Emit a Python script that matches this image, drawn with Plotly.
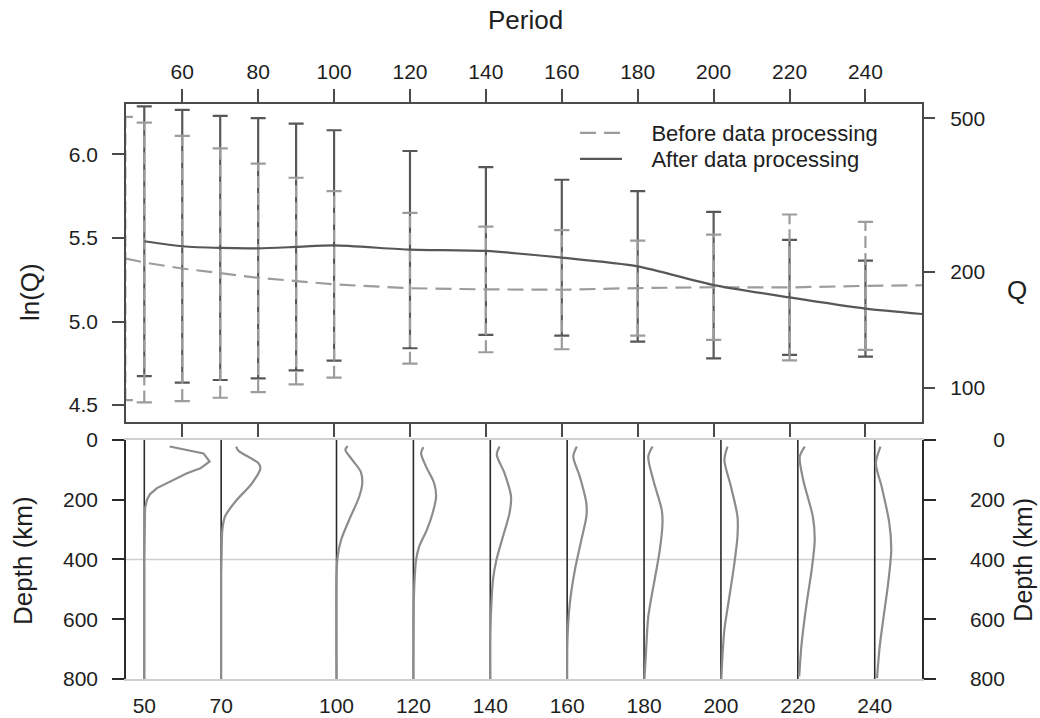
import numpy as np
import plotly.graph_objects as go

# ---------------- data: top panel (ln Q vs period) ----------------
AFTER_PERIOD = [50, 60, 70, 80, 90, 100, 120, 140, 160, 180, 200, 220, 240, 260]
AFTER_LNQ = [5.48, 5.45, 5.44, 5.438, 5.446, 5.455, 5.43, 5.422, 5.382, 5.33, 5.218, 5.144, 5.077, 5.035]
AFTER_ERR = [0.807, 0.816, 0.79, 0.778, 0.738, 0.689, 0.59, 0.502, 0.466, 0.45, 0.438, 0.344, 0.287]

BEFORE_PERIOD = [45, 50, 60, 70, 80, 90, 100, 120, 140, 160, 180, 200, 220, 240, 260]
BEFORE_LNQ = [5.377, 5.353, 5.317, 5.29, 5.261, 5.242, 5.222, 5.199, 5.192, 5.19, 5.20, 5.205, 5.204, 5.213, 5.218]
BEFORE_ERR = [0.847, 0.837, 0.793, 0.746, 0.683, 0.618, 0.558, 0.451, 0.376, 0.356, 0.284, 0.315, 0.436, 0.383]

PERIOD_TICKS = [60, 80, 100, 120, 140, 160, 180, 200, 220, 240]
LNQ_TICKS = [4.5, 5.0, 5.5, 6.0]
Q_TICKS = [100, 200, 500]

# ---------------- data: bottom panel (sensitivity kernels) ----------------
PROFILE_PERIODS = [50, 70, 100, 120, 140, 160, 180, 200, 220, 240]
DEPTH_TICKS = [0, 200, 400, 600, 800]
DEPTH_REF = 400

P50_DEPTH = [22, 45, 72, 95, 111, 128, 145, 161, 181, 200, 228, 300, 400, 800]
P50_X = [56.6, 65.4, 67.0, 64.6, 61.1, 58.5, 55.9, 53.3, 51.5, 50.7, 50.2, 50.05, 50.0, 50.0]
P70_DEPTH = [22, 36, 78, 95, 145, 206, 256, 301, 390, 450, 800]
P70_X = [73.9, 74.5, 79.7, 80.2, 78.0, 73.7, 71.0, 70.3, 70.1, 70.0, 70.0]
P100_DEPTH = [20, 33, 67, 106, 145, 190, 267, 334, 390, 450, 800]
P100_X = [102.9, 102.3, 104.1, 106.3, 106.7, 105.9, 103.3, 101.2, 100.3, 100.0, 100.0]
P120_DEPTH = [24, 44, 89, 145, 190, 245, 301, 357, 401, 468, 550, 800]
P120_X = [122.6, 122.0, 123.3, 125.4, 125.9, 125.0, 123.5, 121.5, 120.7, 120.3, 120.1, 120.0]
P140_DEPTH = [22, 50, 111, 190, 245, 323, 401, 468, 546, 650, 800]
P140_X = [142.4, 141.7, 143.7, 145.4, 145.0, 143.3, 141.6, 140.7, 140.3, 140.0, 140.0]
P160_DEPTH = [22, 56, 123, 212, 256, 334, 435, 546, 658, 800]
P160_X = [162.5, 161.6, 163.3, 165.0, 165.0, 163.7, 162.0, 160.7, 160.1, 160.0]
P180_DEPTH = [22, 56, 134, 234, 278, 368, 457, 591, 724, 800]
P180_X = [182.2, 181.1, 182.4, 184.6, 184.8, 184.1, 182.9, 181.1, 180.45, 180.1]
P200_DEPTH = [22, 67, 156, 256, 323, 412, 524, 635, 746, 800]
P200_X = [201.7, 200.9, 202.6, 204.3, 204.3, 203.5, 202.2, 200.9, 200.3, 200.1]
P220_DEPTH = [22, 56, 134, 256, 334, 435, 546, 680, 791]
P220_X = [221.8, 220.5, 221.4, 223.9, 224.4, 223.6, 222.3, 221.0, 220.35]
P240_DEPTH = [22, 78, 156, 278, 368, 479, 602, 691, 797]
P240_X = [241.5, 240.3, 241.8, 243.8, 244.3, 243.5, 242.2, 241.3, 240.6]

PROFILES = [
    (P50_X, P50_DEPTH, "linear"), (P70_X, P70_DEPTH, "spline"), (P100_X, P100_DEPTH, "spline"),
    (P120_X, P120_DEPTH, "spline"), (P140_X, P140_DEPTH, "spline"), (P160_X, P160_DEPTH, "spline"),
    (P180_X, P180_DEPTH, "spline"), (P200_X, P200_DEPTH, "spline"), (P220_X, P220_DEPTH, "spline"),
    (P240_X, P240_DEPTH, "spline"),
]

# ---------------- styles ----------------
DARK = "#575757"
LIGHT = "#9c9c9c"
AXIS = "#4a4a4a"
TEXT = "#1e1e1e"
FONT = "Liberation Sans, Arial, Helvetica, sans-serif"
CAP = 2.0  # half-width of Before caps (period units)
PAD = "\u00a0" * 4

fig = go.Figure()

# After error bars (solid, dark)
n_err = len(AFTER_ERR)
fig.add_trace(go.Scatter(
    x=AFTER_PERIOD[:n_err], y=AFTER_LNQ[:n_err], mode="markers",
    marker=dict(size=1, opacity=0),
    error_y=dict(type="data", array=AFTER_ERR, color=DARK, thickness=2.2, width=7.5),
    showlegend=False, hoverinfo="skip", xaxis="x", yaxis="y"))

# Before error bars (dashed verticals, light caps)
bx, by, cx, cy = [], [], [], []
for p, c, e in zip(BEFORE_PERIOD, BEFORE_LNQ, BEFORE_ERR):
    bx += [p, p, None]
    by += [c - e, c + e, None]
    for yv in (c - e, c + e):
        cx += [p - CAP, p + CAP, None]
        cy += [yv, yv, None]
fig.add_trace(go.Scatter(x=bx, y=by, mode="lines",
                         line=dict(color=LIGHT, width=2.2, dash="12px,5px"),
                         showlegend=False, hoverinfo="skip", xaxis="x", yaxis="y"))
fig.add_trace(go.Scatter(x=cx, y=cy, mode="lines",
                         line=dict(color=LIGHT, width=2.2),
                         showlegend=False, hoverinfo="skip", xaxis="x", yaxis="y"))

# lines
fig.add_trace(go.Scatter(x=BEFORE_PERIOD, y=BEFORE_LNQ, mode="lines", name=PAD + "Before data processing",
                         line=dict(color=LIGHT, width=2.2, dash="16px,8px"), xaxis="x", yaxis="y",
                         legend="legend"))
fig.add_trace(go.Scatter(x=AFTER_PERIOD, y=AFTER_LNQ, mode="lines", name=PAD + "After data processing",
                         line=dict(color=DARK, width=2.2, shape="spline", smoothing=0.6), xaxis="x", yaxis="y",
                         legend="legend2"))

# empty traces so the right-hand axes are drawn
fig.add_trace(go.Scatter(x=[], y=[], xaxis="x", yaxis="y3", showlegend=False, hoverinfo="skip"))
fig.add_trace(go.Scatter(x=[], y=[], xaxis="x2", yaxis="y4", showlegend=False, hoverinfo="skip"))

# bottom panel baselines
lx, ly = [], []
for p in PROFILE_PERIODS:
    lx += [p, p, None]
    ly += [DEPTH_TICKS[0], DEPTH_TICKS[-1], None]
fig.add_trace(go.Scatter(x=lx, y=ly, mode="lines", line=dict(color="#2a2a2a", width=1.6),
                         showlegend=False, hoverinfo="skip", xaxis="x2", yaxis="y2"))
for xs, ds, shp in PROFILES:
    fig.add_trace(go.Scatter(x=xs, y=ds, mode="lines",
                             line=dict(color="#8c8c8c", width=2.2, shape=shp, smoothing=0.8),
                             showlegend=False, hoverinfo="skip", xaxis="x2", yaxis="y2"))

# reference line at 400 km
fig.add_shape(type="line", xref="x2 domain", yref="y2", x0=0, x1=1, y0=DEPTH_REF, y1=DEPTH_REF,
              line=dict(color="#cfcfcf", width=1.5), layer="below")

TOP_DOM = [0.4464, 1.0]
BOT_DOM = [0.0, 0.4157]
common = dict(showgrid=False, zeroline=False, automargin=False,
              tickfont=dict(size=21, color=TEXT, family=FONT))

depth_right = [("\u00a0\u00a0" * (3 - len(str(d)))) + str(d) for d in DEPTH_TICKS]

legend_style = dict(xanchor="left", yanchor="middle", bgcolor="rgba(0,0,0,0)",
                    font=dict(size=22, color=TEXT, family=FONT), itemwidth=42)

fig.update_layout(
    width=1040, height=718,
    margin=dict(l=126, r=118, t=104, b=39, autoexpand=False),
    plot_bgcolor="white", paper_bgcolor="white",
    font=dict(family=FONT, size=21, color=TEXT),
    showlegend=True,
    legend=dict(x=0.564, y=0.9496, **legend_style),
    legend2=dict(x=0.564, y=0.9043, **legend_style),
    xaxis=dict(domain=[0, 1], anchor="y", side="top", range=[45.18, 254.9],
               tickvals=PERIOD_TICKS, ticks="outside", ticklen=13, tickwidth=1.5, tickcolor=AXIS,
               showline=True, linecolor=AXIS, linewidth=1.5, mirror="ticks", ticklabelstandoff=2,
               **common),
    yaxis=dict(domain=TOP_DOM, anchor="x", range=[4.397, 6.301], tickvals=LNQ_TICKS,
               tickformat=".1f", ticks="outside", ticklen=12, tickwidth=1.5, tickcolor=AXIS,
               showline=True, linecolor=AXIS, linewidth=1.5, mirror=True, ticklabelstandoff=10,
               **common),
    yaxis3=dict(domain=TOP_DOM, anchor="x", overlaying="y", side="right", range=[4.397, 6.301],
                tickvals=list(np.log(Q_TICKS)), ticktext=[str(q) for q in Q_TICKS],
                ticks="outside", ticklen=12, tickwidth=1.5, tickcolor=AXIS, showline=False,
                ticklabelstandoff=11, **common),
    xaxis2=dict(domain=[0, 1], anchor="y2", range=[45.24, 252.3], tickvals=PROFILE_PERIODS,
                ticks="", showline=True, linecolor="#cfcfcf", linewidth=1.5, mirror=True,
                ticklabelstandoff=7, **common),
    yaxis2=dict(domain=BOT_DOM, anchor="x2", range=[800, 0], tickvals=DEPTH_TICKS,
                ticks="outside", ticklen=12, tickwidth=1.5, tickcolor="#2a2a2a",
                showline=True, linecolor="#2a2a2a", linewidth=1.5, ticklabelstandoff=10, **common),
    yaxis4=dict(domain=BOT_DOM, anchor="x2", overlaying="y2", side="right", range=[800, 0],
                tickvals=DEPTH_TICKS, ticktext=depth_right,
                ticks="outside", ticklen=12, tickwidth=1.5, tickcolor="#2a2a2a",
                showline=True, linecolor="#2a2a2a", linewidth=1.5, ticklabelstandoff=30, **common),
)

TITLE_FONT = dict(family=FONT, size=26, color=TEXT)
fig.add_annotation(text="Period", xref="paper", yref="paper", x=0.5025, y=1.146,
                   showarrow=False, font=TITLE_FONT, xanchor="center", yanchor="middle")
fig.add_annotation(text="ln(Q)", xref="paper", yref="paper", x=-0.1206, y=0.673,
                   showarrow=False, font=TITLE_FONT, textangle=-90, xanchor="center", yanchor="middle")
fig.add_annotation(text="Q", xref="paper", yref="paper", x=1.1193, y=0.6765,
                   showarrow=False, font=TITLE_FONT, xanchor="center", yanchor="middle")
fig.add_annotation(text="Depth (km)", xref="paper", yref="paper", x=-0.1294, y=0.207,
                   showarrow=False, font=TITLE_FONT, textangle=-90, xanchor="center", yanchor="middle")
fig.add_annotation(text="Depth (km)", xref="paper", yref="paper", x=1.1265, y=0.207,
                   showarrow=False, font=dict(family=FONT, size=25, color=TEXT), textangle=-90,
                   xanchor="center", yanchor="middle")

fig.write_html("out.html", config={"displayModeBar": False},
               post_script="document.body.style.margin='0';")
